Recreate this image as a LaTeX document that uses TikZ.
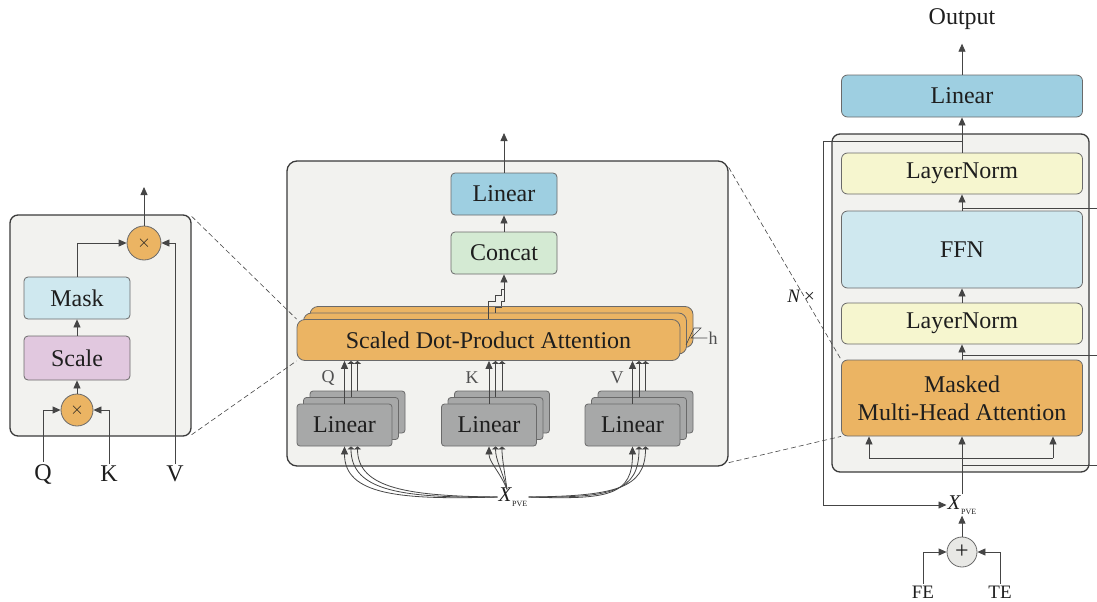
\documentclass[tikz,border=0pt]{standalone}
\usepackage{fontspec}
\setmainfont{Liberation Serif}
\usetikzlibrary{arrows.meta,calc}
\definecolor{panelfill}{HTML}{F2F2EF}
\definecolor{panelline}{HTML}{3A3A3A}
\definecolor{boxline}{HTML}{6A6A6A}
\definecolor{lines}{HTML}{454545}
\definecolor{txt}{HTML}{1E1E1E}
\definecolor{orng}{HTML}{EBB463}
\definecolor{blu}{HTML}{9ECFE1}
\definecolor{grn}{HTML}{D4EAD3}
\definecolor{cyn}{HTML}{CFE8EF}
\definecolor{purp}{HTML}{E1C8DF}
\definecolor{yel}{HTML}{F6F6CF}
\definecolor{gry}{HTML}{A7A8A8}
\definecolor{plusfill}{HTML}{E8E8E5}
\definecolor{smalltxt}{HTML}{505050}
\begin{document}
\begin{tikzpicture}[x=1pt,y=-1pt,
  box/.style={draw=boxline, rounded corners=4pt, line width=0.8pt,
    font=\fontsize{24}{28}\selectfont, text=txt, inner sep=0pt, align=center},
  panel/.style={draw=panelline, fill=panelfill, rounded corners=8pt, line width=1.3pt},
  arr/.style={draw=lines, line width=0.8pt, -{Triangle[length=8pt,width=7pt]}},
  barr/.style={draw=lines, line width=0.8pt, -{Triangle[length=3pt,width=7pt]}},
  ln/.style={draw=lines, line width=0.8pt},
  mul/.style={circle, draw=boxline, fill=orng, minimum size=34pt, inner sep=0pt,
    line width=0.8pt, text=txt},
  lbl/.style={font=\fontsize{24}{28}\selectfont, text=txt, inner sep=2pt},
  slbl/.style={font=\fontsize{18}{20}\selectfont, text=smalltxt, inner sep=1pt},
  att/.style={box, fill=orng, minimum width=383pt, minimum height=41pt, rounded corners=8pt},
  glin/.style={box, fill=gry, minimum width=95pt, minimum height=42pt, rounded corners=3pt},
  dsh/.style={draw=lines, dash pattern=on 5pt off 3pt, line width=0.6pt}
]
\useasboundingbox (0,0) rectangle (1097,602);

% ---------------- left panel ----------------
\node[panel, minimum width=181pt, minimum height=221pt] (lp) at (100.5,325.5) {};
\node[mul] (m1) at (144,243) {\fontsize{18}{18}\selectfont$\times$};
\node[box, fill=cyn, minimum width=106pt, minimum height=42pt] (mask) at (77,298) {Mask};
\node[box, fill=purp, minimum width=106pt, minimum height=44pt] (scale) at (77,358) {Scale};
\node[mul, minimum size=32pt] (m2) at (77,410) {\fontsize{18}{18}\selectfont$\times$};
\node[lbl] (Q) at (43,474) {Q};
\node[lbl] (K) at (109,474) {K};
\node[lbl] (V) at (175,474) {V};
\coordinate (o1) at (144,187);
\draw[arr] (m1.north) -- (o1);
\draw[arr] (mask.north) |- (m1.west);
\draw[arr] (V.north) |- (m1.east);
\draw[arr] (scale.north) -- (mask.south);
\draw[arr] (m2.north) -- (scale.south);
\draw[arr] (Q.north) |- (m2.west);
\draw[arr] (K.north) |- (m2.east);

% ---------------- middle panel ----------------
\node[panel, rounded corners=10pt, minimum width=441pt, minimum height=305pt] (mp) at (507.5,313.5) {};
\node[box, fill=blu, minimum width=106pt, minimum height=42pt] (lin) at (504,194) {Linear};
\node[box, fill=grn, minimum width=106pt, minimum height=42pt] (cat) at (504,253) {Concat};
\coordinate (o2) at (504,133);
\draw[arr] (lin.north) -- (o2);
\draw[arr] (cat.north) -- (lin.south);

\node[att] (sdpaB) at (501.5,327) {};
\node[att] (sdpaM) at (495,333.5) {};
\node[att] (sdpaF) at (488.5,340) {Scaled Dot-Product Attention};

\draw[ln] (sdpaB.north) -- (501.5,301) -- (504,301) -- (504,289);
\draw[ln] (sdpaM.north) |- (501.5,307);
\draw[arr] (sdpaF.north) |- (495,301) |- (501.5,295) |- (504,289) -- (cat.south);

\node[slbl] (h) at (713,338) {h};
\draw[ln, line width=0.6pt] (686,345) -- (694,328) -- (701,328) -- (691,338) -- (h.west);

\foreach \n/\cx in {a/344.5,b/489,c/632.5}{
  \node[glin] (\n3) at (\cx+13,412) {};
  \node[glin] (\n2) at (\cx+6.5,418.5) {};
  \node[glin] (\n1) at (\cx,425) {Linear};
  \draw[barr] (\n3.north) -- (\n3.north |- sdpaF.south);
  \draw[barr] (\n2.north) -- (\n2.north |- sdpaF.south);
  \draw[arr] (\n1.north) -- (\n1.north |- sdpaF.south);
}
\node[slbl] (qm) at (328,378) {Q};
\node[slbl] (km) at (472,378) {K};
\node[slbl] (vm) at (617,378) {V};

\node[inner sep=1pt, text=txt] (xm) at (513,497)
  {\fontsize{21}{24}\selectfont\textit{X}\raisebox{-5pt}{\fontsize{8}{10}\selectfont PVE}};
\draw[barr] (xm.west) .. controls (410,496) and (357.5,489) .. ($(a1.south)+(13,0)$);
\draw[barr] (xm.west) .. controls (405,498) and (351,492) .. ($(a1.south)+(6.5,0)$);
\draw[arr] (xm.west) .. controls (400,500) and (344.5,495) .. (a1.south);
\draw[barr] ($(xm.north)+(-6,3)$) .. controls (504,468) and (502,458) .. ($(b1.south)+(13,0)$);
\draw[barr] ($(xm.north)+(-6,3)$) .. controls (502,470) and (495.5,460) .. ($(b1.south)+(6.5,0)$);
\draw[arr] ($(xm.north)+(-6,3)$) .. controls (500,472) and (489,462) .. (b1.south);
\draw[barr] (xm.east) .. controls (614,496) and (645.5,489) .. ($(c1.south)+(13,0)$);
\draw[barr] (xm.east) .. controls (612,498) and (639,492) .. ($(c1.south)+(6.5,0)$);
\draw[arr] (xm.east) .. controls (610,500) and (632.5,495) .. (c1.south);

% ---------------- right column ----------------
\node[lbl] (out) at (962,19) {Output};
\node[box, fill=blu, minimum width=241pt, minimum height=42pt, rounded corners=6pt] (rlin) at (962,96) {Linear};
\node[panel, minimum width=257pt, minimum height=338pt] (rp) at (960.5,303) {};
\node[box, fill=yel, minimum width=241pt, minimum height=41pt, rounded corners=6pt] (ln1) at (962,173.5) {LayerNorm};
\node[box, fill=cyn, minimum width=241pt, minimum height=77pt, rounded corners=6pt] (ffn) at (962,249.5) {FFN};
\node[box, fill=yel, minimum width=241pt, minimum height=41pt, rounded corners=6pt] (ln2) at (962,323.5) {LayerNorm};
\node[box, fill=orng, minimum width=241pt, minimum height=76pt, rounded corners=6pt] (mha) at (962,398) {Masked\\Multi-Head Attention};

\draw[arr, shorten >=12pt] (rlin.north) -- (out.south);
\draw[arr] (ln1.north) -- (rlin.south);
\draw[arr] (ffn.north) -- (ln1.south);
\draw[arr] (ln2.north) -- (ffn.south);
\draw[arr] (mha.north) -- (ln2.south);

\coordinate (e1) at (1097,208);
\coordinate (e2) at (1097,355);
\coordinate (e3) at (1097,465);
\draw[ln] (ffn.north |- e1) -- (e1);
\draw[ln] (mha.north |- e2) -- (e2);
\draw[ln] (mha.south |- e3) -- (e3);

\node[inner sep=1pt, text=txt] (xr) at (962,505)
  {\fontsize{21}{24}\selectfont\textit{X}\raisebox{-5pt}{\fontsize{8}{10}\selectfont PVE}};
\coordinate (fb) at (823,141);
\draw[arr] (rlin.south |- fb) -- (fb) |- (xr.west);
\draw[arr] (xr.north) -- (mha.south);
\coordinate (bl) at (869,458);
\coordinate (br) at (1053,458);
\draw[ln] (bl) -- (br);
\draw[arr] (bl) -- (bl |- mha.south);
\draw[arr] (br) -- (br |- mha.south);

\node[circle, draw=boxline, fill=plusfill, minimum size=30pt, inner sep=0pt, line width=0.8pt,
  font=\fontsize{24}{24}\selectfont, text=txt] (plus) at (962,552) {+};
\draw[arr] (plus.north) -- (xr.south);
\node[lbl, font=\fontsize{19}{22}\selectfont] (FE) at (923,592) {FE};
\node[lbl, font=\fontsize{19}{22}\selectfont] (TE) at (1000,592) {TE};
\draw[arr] (FE.north) |- (plus.west);
\draw[arr] (TE.north) |- (plus.east);

\node[text=txt, inner sep=1pt] (nx) at (801,296) {\fontsize{19}{22}\selectfont\textit{N}\,×};

% ---------------- dashed zoom lines ----------------
\draw[dsh] ([yshift=-2pt]lp.north east) -- (sdpaF.north west);
\draw[dsh] ([yshift=2pt]lp.south east) -- (sdpaF.south west);
\draw[dsh] ([yshift=-7pt]mp.north east) -- (mha.north west);
\draw[dsh] ([yshift=4pt]mp.south east) -- (mha.south west);
\end{tikzpicture}
\end{document}
